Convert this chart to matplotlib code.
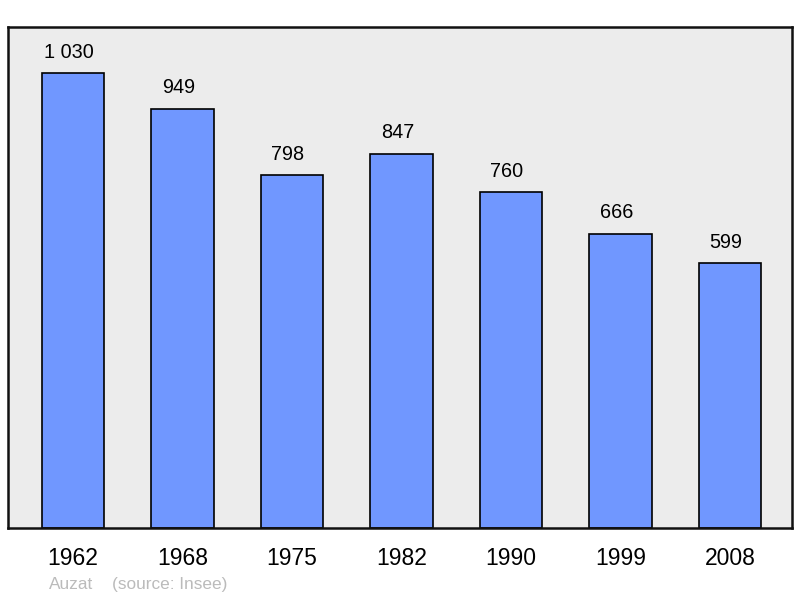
import matplotlib
matplotlib.use("Agg")
import matplotlib.pyplot as plt

years = ["1962", "1968", "1975", "1982", "1990", "1999", "2008"]
population = [1030, 949, 798, 847, 760, 666, 599]
value_labels = ["1 030", "949", "798", "847", "760", "666", "599"]

plt.rcParams['font.family'] = ['Liberation Sans', 'DejaVu Sans']

fig = plt.figure(figsize=(8.0, 5.98), dpi=100)
W, H = 800, 598
ax = fig.add_axes([8 / W, 1 - 528 / H, 784 / W, 501 / H])
ax.set_facecolor("#ececec")

x = range(len(years))
ax.bar(x, population, width=0.57, color="#7097ff", edgecolor="black",
       linewidth=1.2, zorder=2)
for i, (v, lab) in enumerate(zip(population, value_labels)):
    # labels sit a bit left of the bar centre in the original
    ax.annotate(lab, (i, v), xytext=(-3, 15), textcoords="offset points",
                ha="center", va="center", fontsize=14.3)

ax.set_xlim(-0.594, 6.566)
ax.set_ylim(0, 1134)
ax.set_xticks(list(x))
ax.set_xticklabels(years, fontsize=16.5)
ax.tick_params(axis="x", length=0, pad=14)
ax.set_yticks([])
for s in ax.spines.values():
    s.set_linewidth(1.8)
    s.set_color("#111111")

fig.text(49 / W, 1 - 589 / H, "Auzat", fontsize=12.4, color="#bbbbbb",
         va="baseline", ha="left")
fig.text(112 / W, 1 - 589 / H, "(source: Insee)", fontsize=12.4,
         color="#bbbbbb", va="baseline", ha="left")

fig.savefig("out.png", dpi=100)
